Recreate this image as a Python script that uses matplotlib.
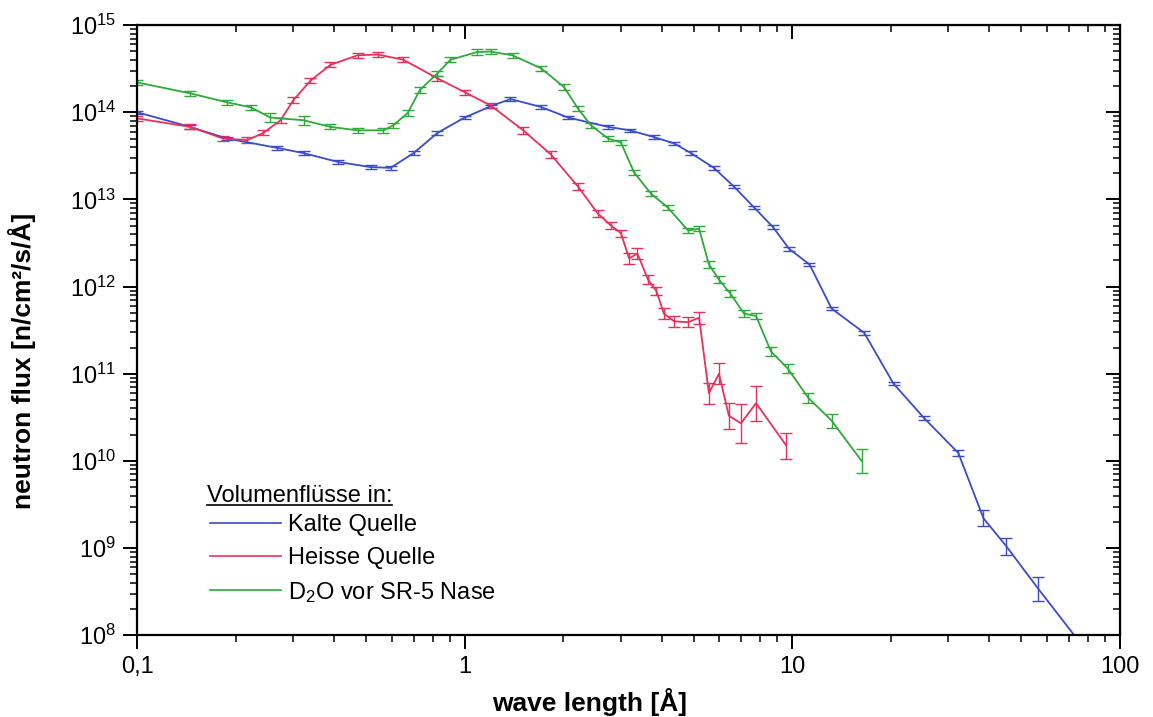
import numpy as np
import matplotlib
matplotlib.use("Agg")
import matplotlib.pyplot as plt
from matplotlib.lines import Line2D
from matplotlib.ticker import LogLocator, NullFormatter, FixedLocator, FixedFormatter

plt.rcParams["font.family"] = ["Liberation Sans", "DejaVu Sans"]
plt.rcParams["mathtext.fontset"] = "custom"
plt.rcParams["mathtext.rm"] = "Liberation Sans"
plt.rcParams["mathtext.it"] = "Liberation Sans:italic"
plt.rcParams["mathtext.bf"] = "Liberation Sans:bold"

# ---- data ----
# Kalte Quelle (blue)
kalt_x = [0.1, 0.145, 0.188, 0.268, 0.322, 0.409, 0.516, 0.594, 0.698, 0.826,
          1.0, 1.2, 1.38, 1.71, 2.07, 2.74, 3.2, 3.78, 4.36, 4.91, 5.77, 6.65,
          7.65, 8.75, 9.8, 11.3, 13.2, 16.6, 20.4, 25.3, 32.2, 38.4, 45.1, 56.5, 80]
kalt_y = [1.0e14, 6.8e13, 5.0e13, 3.9e13, 3.4e13, 2.7e13, 2.35e13, 2.3e13, 3.4e13, 5.8e13,
          8.7e13, 1.17e14, 1.42e14, 1.15e14, 8.7e13, 6.8e13, 6.2e13, 5.2e13, 4.4e13, 3.4e13,
          2.3e13, 1.4e13, 8.1e12, 4.8e12, 2.7e12, 1.8e12, 5.6e11, 2.95e11, 7.7e10, 3.1e10,
          1.23e10, 2.2e9, 1.05e9, 3.4e8, 6.3e7]
# error half-widths in decades
kalt_err = [0.02] * 26 + [0.02, 0.02, 0.02, 0.02, 0.03, 0.09, 0.1, 0.14, 0.0]

# Heisse Quelle (red)
heiss_x = [0.1, 0.145, 0.183, 0.217, 0.243, 0.274, 0.3, 0.338, 0.389, 0.471,
           0.542, 0.65, 0.826, 1.0, 1.2, 1.51, 1.83, 2.22, 2.55, 2.8,
           3.0, 3.18, 3.37, 3.63, 3.85, 4.06, 4.36, 4.81, 5.2, 5.57,
           5.98, 6.41, 6.98, 7.76, 9.6]
heiss_y = [8.5e13, 6.8e13, 5.0e13, 4.8e13, 5.8e13, 8.1e13, 1.38e14, 2.3e14, 3.5e14, 4.5e14,
           4.6e14, 4.0e14, 2.45e14, 1.7e14, 1.2e14, 6.2e13, 3.3e13, 1.4e13, 6.9e12, 5.0e12,
           4.1e12, 2.1e12, 2.4e12, 1.2e12, 8.9e11, 4.9e11, 4.0e11, 3.9e11, 4.4e11, 6.0e10,
           1.0e11, 3.3e10, 2.7e10, 4.6e10, 1.5e10]
heiss_err = [0.03] * 15 + [0.04] * 6 + [0.06, 0.06, 0.05, 0.05, 0.06, 0.06, 0.06, 0.07,
                                        0.12, 0.12, 0.15, 0.22, 0.2, 0.15]

# D2O vor SR-5 Nase (green)
d2o_x = [0.1, 0.145, 0.188, 0.222, 0.255, 0.322, 0.389, 0.471, 0.565, 0.606,
         0.67, 0.73, 0.826, 0.905, 1.09, 1.2, 1.40, 1.71, 2.01, 2.22,
         2.43, 2.74, 3.0, 3.29, 3.70, 4.17, 4.81, 5.2, 5.57, 5.98,
         6.48, 7.13, 7.76, 8.62, 9.7, 11.2, 13.2, 16.3]
d2o_y = [2.2e14, 1.65e14, 1.3e14, 1.14e14, 8.7e13, 8.1e13, 6.8e13, 6.2e13, 6.2e13, 7.1e13,
         9.8e13, 1.8e14, 2.8e14, 4.0e14, 4.9e14, 4.97e14, 4.5e14, 3.2e14, 1.95e14, 1.1e14,
         7.1e13, 5.0e13, 4.5e13, 2.05e13, 1.17e13, 8.1e12, 4.4e12, 4.6e12, 1.8e12, 1.2e12,
         8.3e11, 4.9e11, 4.6e11, 1.8e11, 1.15e11, 5.3e10, 2.9e10, 1.0e10]
d2o_err = [0.03, 0.03, 0.03, 0.03, 0.05, 0.05, 0.03, 0.03, 0.03, 0.03,
           0.03, 0.03, 0.03, 0.03, 0.03, 0.03, 0.03, 0.03, 0.03, 0.03,
           0.03, 0.03, 0.03, 0.03, 0.03, 0.03, 0.03, 0.03, 0.04, 0.04,
           0.04, 0.04, 0.04, 0.05, 0.05, 0.06, 0.08, 0.14]

series = [
    ("Kalte Quelle", kalt_x, kalt_y, kalt_err, "#3a4cc8"),
    ("Heisse Quelle", heiss_x, heiss_y, heiss_err, "#e8305c"),
    ("D$_2$O vor SR-5 Nase", d2o_x, d2o_y, d2o_err, "#2fa83c"),
]

fig = plt.figure(figsize=(11.53, 7.17), dpi=100)
ax = fig.add_axes([0.119, 0.114, 0.852, 0.851])

for label, x, y, e, c in series:
    y = np.array(y)
    d = 10.0 ** np.array(e)
    yerr = [y - y / d, y * d - y]
    ax.errorbar(x, y, yerr=yerr, color=c, lw=1.3, elinewidth=1.0,
                capsize=4, capthick=1.0)

ax.set_xscale("log")
ax.set_yscale("log")
ax.set_xlim(0.1, 100)
ax.set_ylim(1e8, 1e15)

ax.xaxis.set_major_locator(FixedLocator([0.1, 1, 10, 100]))
ax.xaxis.set_major_formatter(FixedFormatter(["0,1", "1", "10", "100"]))
ax.xaxis.set_minor_locator(LogLocator(base=10, subs=np.arange(2, 10)))
ax.xaxis.set_minor_formatter(NullFormatter())
ax.yaxis.set_major_locator(LogLocator(base=10, numticks=20))
ax.yaxis.set_minor_locator(LogLocator(base=10, subs=np.arange(2, 10), numticks=20))
ax.yaxis.set_minor_formatter(NullFormatter())

ax.tick_params(which="major", direction="out", length=10, width=1.4)
ax.tick_params(which="minor", direction="out", length=5, width=1.1)
ax.tick_params(axis="x", which="major", labelsize=17, pad=5)
ax.tick_params(axis="y", which="major", labelsize=17, pad=5)

# inward ticks on top and right
top = ax.secondary_xaxis("top")
top.xaxis.set_major_locator(FixedLocator([0.1, 1, 10, 100]))
top.xaxis.set_minor_locator(LogLocator(base=10, subs=np.arange(2, 10)))
top.tick_params(which="major", direction="in", length=10, width=1.4, labeltop=False)
top.tick_params(which="minor", direction="in", length=5, width=1.1)
right = ax.secondary_yaxis("right")
right.yaxis.set_major_locator(LogLocator(base=10, numticks=20))
right.yaxis.set_minor_locator(LogLocator(base=10, subs=np.arange(2, 10), numticks=20))
right.tick_params(which="major", direction="in", length=10, width=1.4, labelright=False)
right.tick_params(which="minor", direction="in", length=5, width=1.1)

for s in ax.spines.values():
    s.set_linewidth(1.6)

ax.set_xlabel("wave length [Å]", fontsize=19, fontweight="bold")
ax.xaxis.set_label_coords(0.461, -0.087)
ax.set_ylabel("neutron flux [n/cm²/s/Å]", fontsize=19, fontweight="bold")
ax.yaxis.set_label_coords(-0.103, 0.45)

# legend
handles = [Line2D([], [], color=c, lw=1.2) for _, _, _, _, c in series]
labels = [s[0] for s in series]
ax.legend(handles, labels, loc="upper left", bbox_to_anchor=(0.074, 0.198),
          frameon=False, fontsize=17, handlelength=3.0, handletextpad=0.3,
          labelspacing=0.45, borderaxespad=0, borderpad=0)
t = ax.text(0.071, 0.229, "Volumenflüsse in:", transform=ax.transAxes,
            fontsize=17, va="center", ha="left")
fig.canvas.draw()
bb = t.get_window_extent().transformed(ax.transAxes.inverted())
ax.plot([bb.x0, bb.x1], [bb.y0 + 0.002, bb.y0 + 0.002], transform=ax.transAxes,
        color="k", lw=1.2, clip_on=False)

fig.savefig("out.png", dpi=100)
